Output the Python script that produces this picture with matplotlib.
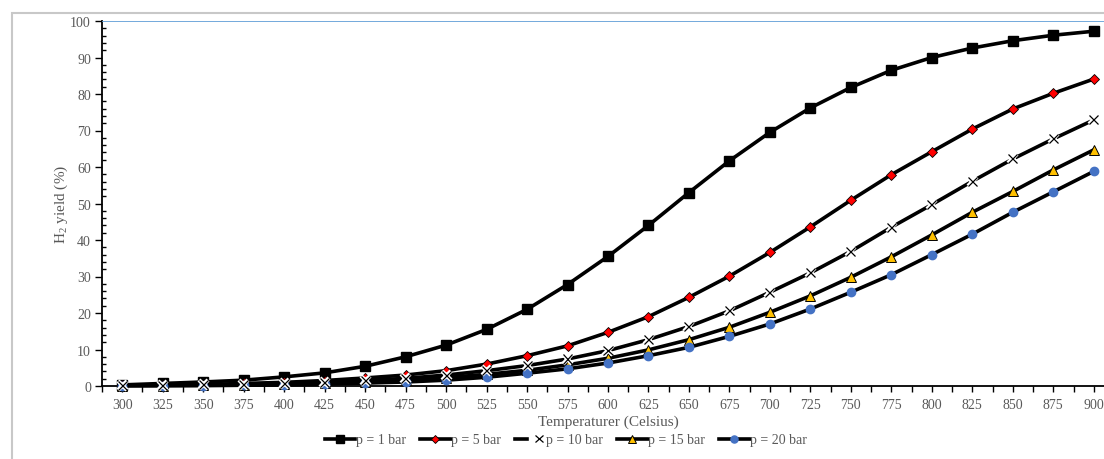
import matplotlib
matplotlib.use("Agg")
import matplotlib.pyplot as plt
from matplotlib.patches import Rectangle
from matplotlib.legend_handler import HandlerTuple
import matplotlib.patheffects as pe
from matplotlib.ticker import MultipleLocator

plt.rcParams['font.family'] = ['Liberation Serif', 'DejaVu Serif']
plt.rcParams['mathtext.fontset'] = 'custom'
plt.rcParams['mathtext.rm'] = 'Liberation Serif'
plt.rcParams['mathtext.it'] = 'Liberation Serif:italic'

temps = [300, 325, 350, 375, 400, 425, 450, 475, 500, 525, 550, 575, 600,
         625, 650, 675, 700, 725, 750, 775, 800, 825, 850, 875, 900]
p1 = [0.3, 0.7, 1.1, 1.6, 2.5, 3.6, 5.4, 8.0, 11.2, 15.5, 21.0, 27.8, 35.5,
      44.0, 53.0, 61.7, 69.5, 76.2, 81.8, 86.5, 90.0, 92.6, 94.6, 96.1, 97.2]
p5 = [0.2, 0.3, 0.4, 0.7, 1.0, 1.5, 2.2, 3.0, 4.2, 6.0, 8.3, 11.0, 14.7,
      19.0, 24.3, 30.1, 36.6, 43.6, 50.9, 57.9, 64.2, 70.4, 75.9, 80.2, 84.1]
p10 = [0.1, 0.2, 0.3, 0.4, 0.6, 1.0, 1.5, 2.1, 3.0, 4.2, 5.6, 7.4, 9.7,
       12.7, 16.3, 20.6, 25.7, 31.0, 36.9, 43.5, 49.7, 56.1, 62.2, 67.7, 72.9]
p15 = [0.1, 0.1, 0.2, 0.3, 0.5, 0.8, 1.1, 1.6, 2.3, 3.2, 4.3, 5.8, 7.6,
       9.9, 12.7, 16.1, 20.2, 24.7, 29.8, 35.4, 41.4, 47.6, 53.3, 59.2, 64.7]
p20 = [0.1, 0.1, 0.1, 0.2, 0.3, 0.5, 0.8, 1.1, 1.6, 2.4, 3.5, 4.7, 6.3,
       8.3, 10.6, 13.6, 17.0, 21.1, 25.7, 30.5, 36.0, 41.6, 47.6, 53.2, 58.8]
labels = ['p = 1 bar', 'p = 5 bar', 'p = 10 bar', 'p = 15 bar', 'p = 20 bar']

W, H = 1104, 460
fig = plt.figure(figsize=(W / 100, H / 100), dpi=100)
# outer chart border
fig.patches.append(Rectangle((12 / W, -0.1), 1.2, (H - 14) / H + 0.1,
                             transform=fig.transFigure, fill=False,
                             edgecolor='#c8c8c8', linewidth=1.5))

left, right, top, bottom = 102, 1114, 22, 387
ax = fig.add_axes([left / W, (H - bottom) / H, (right - left) / W, (bottom - top) / H])
ax.set_xlim(287.5, 912.5)
ax.set_ylim(0, 100)

grey = '#595959'
lw = 2.6
handles = []
l1, = ax.plot(temps, p1, color='black', lw=lw, marker='s', ms=6.5,
              mfc='black', mec='black', clip_on=False, zorder=5)
handles.append(l1)
l2, = ax.plot(temps, p5, color='black', lw=lw, marker='D', ms=5,
              mfc='#ff0000', mec='black', mew=0.6, clip_on=False, zorder=5)
handles.append(l2)
l3, = ax.plot(temps, p10, color='black', lw=lw, clip_on=False, zorder=5)
m3, = ax.plot(temps, p10, ls='none', marker='x', ms=6.5, mec='black', mew=0.9,
              clip_on=False, zorder=6,
              path_effects=[pe.withStroke(linewidth=3, foreground='white')])
handles.append((l3, m3))
l4, = ax.plot(temps, p15, color='black', lw=lw, marker='^', ms=7,
              mfc='#ffc000', mec='black', mew=0.7, clip_on=False, zorder=5)
handles.append(l4)
l5, = ax.plot(temps, p20, color='black', lw=lw, marker='o', ms=6,
              mfc='#4472c4', mec='#4472c4', clip_on=False, zorder=5)
handles.append(l5)

ax.axhline(100, color='#5b9bd5', lw=1.2, zorder=4)

for s in ['top', 'right']:
    ax.spines[s].set_visible(False)
for s in ['left', 'bottom']:
    ax.spines[s].set_color('black')
    ax.spines[s].set_linewidth(1.3)

ax.set_xticks(temps)
ax.set_xticklabels([str(t) for t in temps])
ax.xaxis.set_minor_locator(MultipleLocator(12.5))
ax.yaxis.set_major_locator(MultipleLocator(10))
ax.yaxis.set_minor_locator(MultipleLocator(2))
ax.tick_params(axis='x', which='both', direction='out', length=4, width=1,
               color='black', labelsize=10, labelcolor=grey, pad=5)
ax.tick_params(axis='y', which='major', direction='out', length=5, width=1,
               color='black', labelsize=10, labelcolor=grey, pad=3)
ax.tick_params(axis='y', which='minor', direction='in', length=3, width=1,
               color='black')

ax.set_xlabel('Temperaturer (Celsius)', fontsize=11, color=grey, labelpad=2)
ax.set_ylabel('H$_{2}$ yield (%)', fontsize=11, color=grey, labelpad=0)

fig.legend(handles, labels, loc='center', bbox_to_anchor=(566 / W, 1 - 441 / H),
           ncol=5, frameon=False, fontsize=10, labelcolor=grey,
           handlelength=2.2, handletextpad=0.05, columnspacing=1.0,
           markerscale=0.85,
           handler_map={tuple: HandlerTuple(ndivide=None)})

fig.savefig('out.png', dpi=100)
